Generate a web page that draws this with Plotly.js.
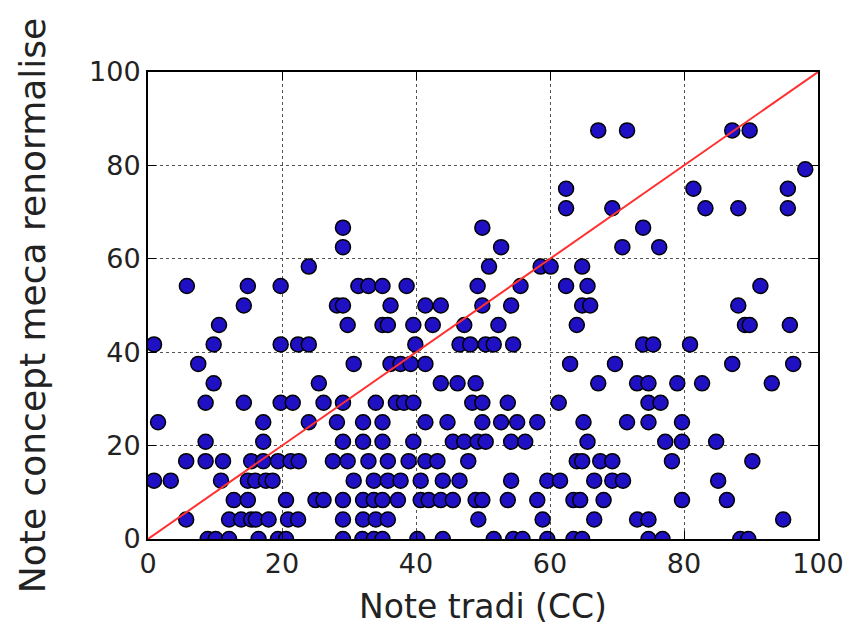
<!DOCTYPE html>
<html>
<head>
<meta charset="utf-8">
<script src="https://cdn.plot.ly/plotly-3.0.1.min.js"></script>
<style>html,body{margin:0;padding:0;background:#fff;}#chart{width:852px;height:634px;}</style>
</head>
<body>
<div id="chart"></div>
<script>
// y levels (Note concept meca renormalise), top to bottom
const conceptLevels = [87.5, 79.17, 75, 70.83, 66.67, 62.5, 58.33, 54.17, 50, 45.83, 41.67, 37.5, 33.33, 29.17, 25, 20.83, 16.67, 12.5, 8.33, 4.17, 0];
// x values (Note tradi (CC)) for each level, in the same order
const tradi875 = [67.2, 71.5, 87.2, 89.8];
const tradi792 = [98.1];
const tradi750 = [62.4, 81.4, 95.5];
const tradi708 = [62.4, 69.3, 83.2, 88.1, 95.5];
const tradi667 = [29.1, 49.9, 73.9];
const tradi625 = [29.1, 52.7, 70.8, 76.3];
const tradi583 = [24, 50.9, 58.6, 60.1, 64.8];
const tradi542 = [5.8, 14.9, 19.8, 31.4, 32.9, 35, 38.6, 49.2, 55.6, 62.4, 65.6, 91.4];
const tradi500 = [14.3, 28.2, 29.1, 36.2, 41.4, 43.7, 49.9, 54.2, 64.8, 66, 88.1];
const tradi458 = [10.6, 29.8, 35, 35.8, 39.6, 42.5, 47.2, 52.3, 64, 89.1, 89.8, 95.8];
const tradi417 = [0.9, 9.8, 19.8, 22.4, 24, 39.9, 46.5, 48.1, 50.4, 51.6, 54.5, 73.9, 75.4, 80.9];
const tradi375 = [7.5, 30.7, 36.2, 37.7, 39.2, 41.4, 63, 69.7, 87.2, 96.3];
const tradi333 = [9.8, 25.5, 43.7, 46.2, 48.9, 67.2, 73, 74.7, 79, 82.7, 93.1];
const tradi292 = [8.6, 14.3, 19.8, 21.6, 26.2, 29.1, 34, 37, 38.2, 39.6, 48.4, 49.9, 53.7, 61.3, 74.7, 76.5];
const tradi250 = [1.5, 17.2, 24, 28.2, 32.1, 35, 41.4, 44.7, 49.9, 52.7, 55.1, 58.1, 65, 71.5, 74.7, 79.7];
const tradi208 = [8.6, 17.2, 29.1, 32.1, 35, 39.6, 45.5, 47.2, 49.2, 50.4, 54.2, 56.3, 65.6, 77.2, 79.7, 84.8];
const tradi167 = [5.7, 8.6, 11.2, 15.4, 17.2, 19.4, 21.3, 22.5, 27.6, 29.8, 32.9, 35.8, 38.9, 41.4, 43.2, 47.8, 64, 64.8, 67.5, 69.3, 78.2, 90.2];
const tradi125 = [0.9, 3.4, 10.9, 14.9, 16, 17.6, 18.6, 30.7, 33.7, 35.8, 37.7, 40.7, 44, 46.5, 54.2, 59.6, 61.5, 66.6, 69.3, 70.9, 85.1];
const tradi083 = [12.8, 14.9, 20.6, 25, 26.2, 29.1, 32.1, 33.7, 35, 37.3, 40.7, 41.9, 43.7, 45.5, 48.9, 49.9, 53.7, 58.1, 63.5, 64.5, 68, 79.7, 86.4];
const tradi042 = [5.7, 12.1, 13.9, 15.4, 16.1, 18, 20.9, 22.4, 29.1, 32.1, 34, 35.8, 49.3, 58.9, 66.6, 73, 74.7, 94.8];
const tradi000 = [8.9, 10.1, 12.1, 16.5, 19.4, 20.6, 29.1, 32, 33.7, 35, 40.2, 44, 51.6, 54.5, 55.9, 59.6, 63.5, 64.8, 74.7, 76.8, 88.4, 89.6];
const diagX = [0, 100];
const diagY = [0, 100];
const tickVals = [0, 20, 40, 60, 80, 100];

const tradiRows = [tradi875, tradi792, tradi750, tradi708, tradi667, tradi625, tradi583, tradi542, tradi500, tradi458, tradi417, tradi375, tradi333, tradi292, tradi250, tradi208, tradi167, tradi125, tradi083, tradi042, tradi000];
const xs = [], ys = [];
tradiRows.forEach((row, i) => row.forEach(v => { xs.push(v); ys.push(conceptLevels[i]); }));

const font = 'DejaVu Sans, sans-serif';
const axisCommon = {
  range: [0, 100], tickvals: tickVals, showline: true, linecolor: '#000', linewidth: 2,
  mirror: 'allticks', ticks: 'inside', ticklen: 8, tickwidth: 1, tickcolor: '#000',
  showgrid: true, gridcolor: '#555', griddash: 'dot', gridwidth: 1, zeroline: false,
  tickfont: {family: font, size: 27, color: '#222'}, fixedrange: true
};
const data = [
  {x: xs, y: ys, type: 'scatter', mode: 'markers',
   marker: {size: 15, color: '#2010c4', line: {color: '#000', width: 1.5}}, cliponaxis: true},
  {x: diagX, y: diagY, type: 'scatter', mode: 'lines', line: {color: '#ff3030', width: 2}}
];
const layout = {
  width: 852, height: 634, showlegend: false,
  paper_bgcolor: '#fff', plot_bgcolor: '#fff',
  margin: {l: 148, r: 34, t: 72, b: 95},
  xaxis: Object.assign({}, axisCommon, {title: {text: 'Note tradi (CC)', font: {family: font, size: 33, color: '#222'}, standoff: 16}}),
  yaxis: Object.assign({}, axisCommon, {title: {text: 'Note concept meca renormalise', font: {family: font, size: 36, color: '#222'}, standoff: 32}})
};
Plotly.newPlot('chart', data, layout, {staticPlot: true});
</script>
</body>
</html>
